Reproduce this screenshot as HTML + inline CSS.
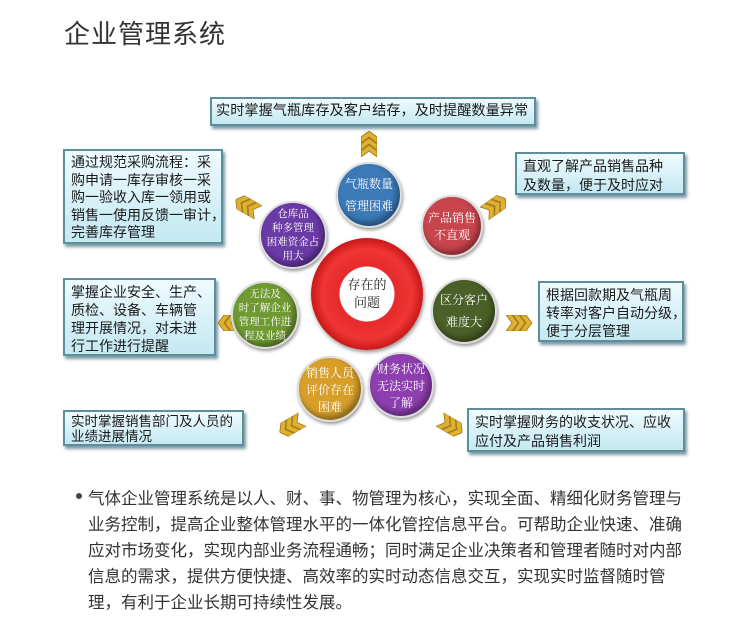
<!DOCTYPE html>
<html><head><meta charset="utf-8"><style>
body{margin:0;width:750px;height:632px;background:#fff;position:relative;overflow:hidden;font-family:"Liberation Sans","Noto Sans CJK SC",sans-serif;}
.t{position:absolute;left:64px;top:14px;font-size:26px;color:#333;letter-spacing:1px}
.b{position:absolute;box-sizing:border-box;border:2px solid #5e8d9b;background:linear-gradient(#eefbfe,#c4e8f2);box-shadow:2px 3px 3px #7a9aa5;font-size:14px;line-height:19px;color:#1a1a1a;padding:3px 6px;white-space:nowrap;overflow:hidden}
.c{position:absolute;border-radius:50%;color:#fff;font-family:"Noto Serif CJK SC","Noto Sans CJK SC",serif;font-size:12px;line-height:17px;text-align:center;display:flex;align-items:center;justify-content:center;box-shadow:inset -3px -4px 6px rgba(0,0,0,.35),1px 2px 3px #999;border:2px solid #ddd;box-sizing:border-box;white-space:nowrap}
.s{font-size:10.5px;line-height:14px}
.p{position:absolute;left:88px;font-size:16.5px;color:#333;white-space:nowrap}
.ch{position:absolute;width:26px;height:16px}
</style></head><body>
<svg width="0" height="0" style="position:absolute"><defs><g id="cv"><polygon points="0,0 6,0 12,8 6,16 0,16 6,8" fill="#e0b030" stroke="#9a7414" stroke-width="0.8"/><polygon points="7,0 13,0 19,8 13,16 7,16 13,8" fill="#e0b030" stroke="#9a7414" stroke-width="0.8"/><polygon points="14,0 20,0 26,8 20,16 14,16 20,8" fill="#e0b030" stroke="#9a7414" stroke-width="0.8"/></g></defs></svg>
<div class="t">企业管理系统</div>
<div class="b" style="left:210px;top:97px;width:326px;height:29px;padding:3px 4px;font-size:14.2px">实时掌握气瓶库存及客户结存，及时提醒数量异常</div>
<div class="b" style="left:63px;top:149px;width:160px;height:95px;line-height:17.6px">通过规范采购流程：采<br>购申请一库存审核一采<br>购一验收入库一领用或<br>销售一使用反馈一审计，<br>完善库存管理</div>
<div class="b" style="left:515px;top:152px;width:170px;height:43px">直观了解产品销售品种<br>及数量，便于及时应对</div>
<div class="b" style="left:63px;top:278px;width:153px;height:78px;line-height:18px">掌握企业安全、生产、<br>质检、设备、车辆管<br>理开展情况，对未进<br>行工作进行提醒</div>
<div class="b" style="left:538px;top:281px;width:146px;height:61px;line-height:18px">根据回款期及气瓶周<br>转率对客户自动分级，<br>便于分层管理</div>
<div class="b" style="left:63px;top:410px;width:181px;height:36px;line-height:15px;padding-top:2px;font-size:13.5px">实时掌握销售部门及人员的<br>业绩进展情况</div>
<div class="b" style="left:467px;top:408px;width:218px;height:44px">实时掌握财务的收支状况、应收<br>应付及产品销售利润</div>
<svg class="ch" style="left:356px;top:136px;transform:rotate(-90deg)" viewBox="0 0 26 16"><use href="#cv"/></svg>
<svg class="ch" style="left:234px;top:198px;transform:rotate(210deg)" viewBox="0 0 26 16"><use href="#cv"/></svg>
<svg class="ch" style="left:482px;top:198px;transform:rotate(-35deg)" viewBox="0 0 26 16"><use href="#cv"/></svg>
<svg class="ch" style="left:218px;top:315px;transform:rotate(180deg)" viewBox="0 0 26 16"><use href="#cv"/></svg>
<svg class="ch" style="left:506px;top:315px" viewBox="0 0 26 16"><use href="#cv"/></svg>
<svg class="ch" style="left:278px;top:418px;transform:rotate(150deg)" viewBox="0 0 26 16"><use href="#cv"/></svg>
<svg class="ch" style="left:438px;top:418px;transform:rotate(30deg)" viewBox="0 0 26 16"><use href="#cv"/></svg>
<div style="position:absolute;left:311px;top:238px;width:112px;height:112px;border-radius:50%;background:radial-gradient(circle,#fff 0 27px,#e42a2a 28px,#f03535 45px,#c81818 56px);box-shadow:1px 2px 4px #888"></div>
<div style="position:absolute;left:339px;top:275px;width:56px;text-align:center;font-family:'Noto Serif CJK SC',serif;font-size:13px;line-height:18px;color:#222">存在的<br>问题</div>
<div class="c" style="left:336px;top:162px;width:66px;height:66px;background:#3b79b9;line-height:22px">气瓶数量<br>管理困难</div>
<div class="c s" style="left:259px;top:201px;width:68px;height:68px;background:#6a3aa5">仓库品<br>种多管理<br>困难资金占<br>用大</div>
<div class="c" style="left:421px;top:195px;width:62px;height:62px;background:#c8454d">产品销售<br>不直观</div>
<div class="c s" style="left:231px;top:281px;width:68px;height:68px;background:#6f9a32">无法及<br>时了解企业<br>管理工作进<br>程及业绩</div>
<div class="c" style="left:431px;top:278px;width:66px;height:66px;background:#4a6028;line-height:22px">区分客户<br>难度大</div>
<div class="c" style="left:297px;top:356px;width:66px;height:66px;background:#d79e2a">销售人员<br>评价存在<br>困难</div>
<div class="c" style="left:368px;top:352px;width:66px;height:66px;background:#8d3fb0">财务状况<br>无法实时<br>了解</div>
<div style="position:absolute;left:76px;top:493px;width:6px;height:6px;border-radius:50%;background:#444"></div>
<div class="p" style="top:485px">气体企业管理系统是以人、财、事、物管理为核心，实现全面、精细化财务管理与</div>
<div class="p" style="top:511px">业务控制，提高企业整体管理水平的一体化管控信息平台。可帮助企业快速、准确</div>
<div class="p" style="top:537px">应对市场变化，实现内部业务流程通畅；同时满足企业决策者和管理者随时对内部</div>
<div class="p" style="top:563px">信息的需求，提供方便快捷、高效率的实时动态信息交互，实现实时监督随时管</div>
<div class="p" style="top:589px">理，有利于企业长期可持续性发展。</div>
</body></html>
